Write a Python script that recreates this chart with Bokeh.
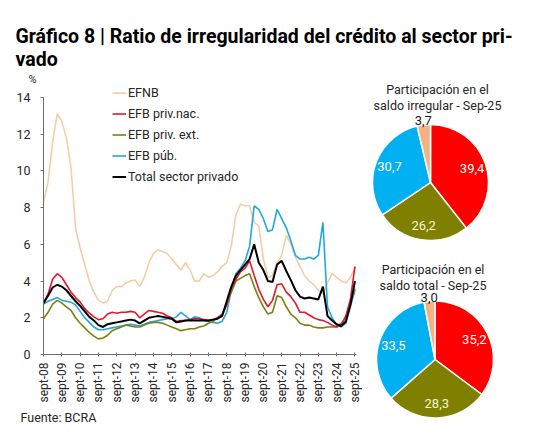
import math
import pandas as pd
from math import pi
from bokeh.plotting import figure
from bokeh.layouts import column, row
from bokeh.models import Range1d, FixedTicker, Legend, LegendItem, Title, ColumnDataSource
from bokeh.core.properties import value
from bokeh.embed import file_html
from bokeh.resources import INLINE

# ---------------- data ----------------
DATES = pd.date_range("2008-09-01", "2025-09-01", freq="3MS")  # quarterly, sept-08 .. sept-25

EFNB = [8.3, 9.4, 11.6, 13.1, 12.7, 11.8, 10.2, 6.9, 5.8, 4.9,
        4.0, 3.4, 2.95, 2.8, 2.9, 3.5, 3.7, 3.7, 3.9, 4.0,
        4.05, 3.7, 4.2, 5.0, 5.5, 5.7, 5.6, 5.5, 5.2, 4.9,
        4.6, 5.0, 4.6, 4.0, 4.0, 4.4, 4.2, 4.3, 4.5, 4.8,
        5.0, 5.9, 7.6, 8.2, 8.1, 8.1, 7.2, 7.0, 5.2, 4.2,
        4.3, 5.0, 5.4, 6.5, 6.0, 5.3, 4.8, 4.3, 4.0, 3.8,
        3.5, 3.3, 3.9, 4.4, 4.2, 4.0, 3.9, 4.2, 4.7]
EFB_PRIV_NAC = [2.8, 3.3, 4.1, 4.4, 4.2, 3.8, 3.4, 3.1, 2.85, 2.5,
                2.25, 2.05, 1.9, 1.95, 2.2, 2.3, 2.25, 2.3, 2.3, 2.35,
                2.3, 2.0, 2.2, 2.4, 2.35, 2.3, 2.25, 2.1, 2.0, 1.8,
                1.85, 1.85, 1.9, 1.95, 1.95, 1.9, 1.85, 1.9, 2.0, 2.2,
                2.7, 3.6, 4.1, 4.5, 4.7, 5.1, 4.3, 3.55, 3.0, 2.6,
                2.95, 3.8, 3.85, 3.4, 3.15, 2.8, 2.3, 2.3, 2.15, 2.0,
                1.9, 1.85, 1.75, 1.6, 1.5, 1.6, 2.1, 3.0, 4.8]
EFB_PRIV_EXT = [1.95, 2.3, 2.75, 2.95, 2.8, 2.6, 2.4, 2.0, 1.7, 1.45,
                1.2, 1.0, 0.85, 0.9, 1.05, 1.3, 1.4, 1.5, 1.6, 1.55,
                1.5, 1.5, 1.6, 1.7, 1.75, 1.75, 1.7, 1.6, 1.5, 1.4,
                1.3, 1.35, 1.4, 1.4, 1.5, 1.55, 1.7, 1.8, 2.0, 2.1,
                2.75, 3.4, 4.0, 4.15, 4.3, 4.4, 3.7, 3.1, 2.6, 2.2,
                2.3, 3.2, 3.1, 2.6, 2.2, 2.0, 1.7, 1.6, 1.6, 1.5,
                1.45, 1.45, 1.5, 1.5, 1.5, 1.7, 2.0, 2.8, 3.6]
EFB_PUB = [2.75, 2.9, 3.0, 3.1, 2.95, 2.9, 2.85, 2.7, 2.35, 2.0,
           1.75, 1.5, 1.35, 1.35, 1.4, 1.45, 1.5, 1.55, 1.6, 1.65,
           1.6, 1.55, 1.65, 1.75, 1.8, 1.85, 1.9, 1.95, 1.95, 2.05,
           2.3, 2.1, 1.9, 2.05, 2.0, 1.85, 1.8, 1.75, 1.7, 1.8,
           2.3, 3.5, 4.4, 4.7, 5.1, 5.9, 8.1, 7.9, 7.4, 6.7,
           6.8, 7.9, 7.4, 6.9, 6.2, 5.4, 5.2, 5.2, 5.3, 5.2,
           5.4, 7.2, 2.6, 2.0, 1.6, 1.5, 1.7, 2.6, 3.5]
TOTAL = [2.8, 3.2, 3.65, 3.8, 3.7, 3.5, 3.2, 2.9, 2.65, 2.35,
         2.05, 1.85, 1.6, 1.5, 1.65, 1.7, 1.75, 1.8, 1.85, 1.9,
         1.85, 1.7, 1.85, 2.0, 2.05, 2.1, 2.05, 2.0, 1.95, 1.75,
         1.8, 1.85, 1.85, 1.85, 1.85, 1.85, 1.85, 1.9, 1.95, 2.1,
         2.9, 3.7, 4.3, 4.6, 4.9, 5.2, 6.0, 5.0, 4.6, 4.0,
         3.95, 4.9, 5.1, 4.55, 4.05, 3.5, 3.15, 3.05, 3.1, 3.05,
         3.0, 3.7, 2.1, 1.85, 1.65, 1.55, 1.8, 2.7, 4.0]

X_TICK_LABELS = ["sept-08", "sept-09", "sept-10", "sept-11", "sept-12", "sept-13",
                 "sept-14", "sept-15", "sept-16", "sept-17", "sept-18", "sept-19",
                 "sept-20", "sept-21", "sept-22", "sept-23", "sept-24", "sept-25"]
Y_TICKS = [0, 2, 4, 6, 8, 10, 12, 14]

PIE_CATEGORIES = ["EFB priv.nac.", "EFB priv. ext.", "EFB púb.", "EFNB"]
SHARE_IRREGULAR = [39.4, 26.2, 30.7, 3.7]
SHARE_TOTAL = [35.2, 28.3, 33.5, 3.0]

TITLE_LINES = ["Gráfico 8 | Ratio de irregularidad del crédito al sector pri-", "vado"]
PIE1_TITLE = ["Participación en el", "saldo irregular - Sep-25"]
PIE2_TITLE = ["Participación en el", "saldo total - Sep-25"]
UNIT_LABEL = "%"
SOURCE_NOTE = "Fuente: BCRA"

# ---------------- styles ----------------
FONT = "Roboto"
TXT = "#262626"
LINE_COLORS = {"EFNB": "#F6CCA6", "EFB priv.nac.": "#E3182D", "EFB priv. ext.": "#7F7F10",
               "EFB púb.": "#22A7E0", "Total sector privado": "#000000"}
PIE_COLORS = ["#FF0000", "#7F7F00", "#00B0F0", "#F4B183"]
PIE_TEXT = ["#FFFFFF", "#F4F4D8", "#FFFFFF", "#1A1A1A"]

months = [(d.year - 2008) * 12 + (d.month - 9) for d in DATES]

def blank_fig(w, h):
    f = figure(width=w, height=h, x_range=Range1d(0, w), y_range=Range1d(0, h),
               x_axis_type=None, y_axis_type=None, min_border=0,
               outline_line_color=None, toolbar_location=None, output_backend="svg")
    f.grid.visible = False
    return f

# ---------------- title ----------------
tf = blank_fig(554, 70)
tf.text(x=[15, 15], y=[34.2, 10.8], text=TITLE_LINES, text_font=value(FONT),
        text_font_style="bold", text_font_size="19.5px", text_color="#000000",
        text_baseline="alphabetic", text_align="left")

# ---------------- line chart ----------------
PX_PER_UNIT = 257 / 14
Y_TOP = 14 + 12 / PX_PER_UNIT  # frame extends a little above 14 so the legend fits
p = figure(width=362, height=374, min_border_left=43, min_border_right=6,
           min_border_top=15, min_border_bottom=90,
           x_range=Range1d(0, 205), y_range=Range1d(0, Y_TOP),
           toolbar_location=None, output_backend="svg", outline_line_color=None)
p.grid.visible = False

p.add_layout(Title(text=UNIT_LABEL, align="left", offset=-15, standoff=0,
                   text_font=FONT, text_font_size="11px", text_font_style="normal",
                   text_color=TXT), "above")
p.add_layout(Title(text=SOURCE_NOTE, align="left", offset=-23, standoff=4,
                   text_font=FONT, text_font_size="12.5px", text_font_style="normal",
                   text_color=TXT), "below")

series = [("EFNB", EFNB, 1.6), ("EFB púb.", EFB_PUB, 1.6), ("EFB priv. ext.", EFB_PRIV_EXT, 1.6),
          ("EFB priv.nac.", EFB_PRIV_NAC, 1.6), ("Total sector privado", TOTAL, 2.0)]
rends = {}
for name, vals, lw in series:
    rends[name] = p.line(months, vals, line_color=LINE_COLORS[name], line_width=lw)

legend_order = ["EFNB", "EFB priv.nac.", "EFB priv. ext.", "EFB púb.", "Total sector privado"]
legend = Legend(items=[LegendItem(label=n, renderers=[rends[n]]) for n in legend_order],
                location=(69, 168), orientation="vertical", padding=0, margin=0, spacing=2,
                label_height=19, glyph_height=19, glyph_width=14, label_standoff=2,
                label_text_font=FONT, label_text_font_size="12.5px", label_text_color=TXT,
                border_line_color=None, background_fill_alpha=0)
p.add_layout(legend)

xticks = [12 * i for i in range(len(X_TICK_LABELS))]
p.xaxis.ticker = FixedTicker(ticks=xticks)
p.xaxis.major_label_overrides = {t: lab for t, lab in zip(xticks, X_TICK_LABELS)}
p.xaxis.major_label_orientation = pi / 2
p.xaxis.major_tick_in = 2
p.xaxis.major_tick_out = 2
p.xaxis.major_label_standoff = 6
p.yaxis.ticker = FixedTicker(ticks=Y_TICKS)
p.yaxis.bounds = (Y_TICKS[0], Y_TICKS[-1])
p.yaxis.major_tick_in = 0
p.yaxis.major_tick_out = 3
p.yaxis.major_label_standoff = 10
for ax in (p.xaxis, p.yaxis):
    ax.minor_tick_line_color = None
    ax.axis_line_color = "#6F6F6F"
    ax.major_tick_line_color = "#6F6F6F"
    ax.major_label_text_font = FONT
    ax.major_label_text_color = TXT
p.xaxis.major_label_text_font_size = "12px"
p.yaxis.major_label_text_font_size = "12.5px"

# ---------------- pies ----------------
def pie_fig(shares, title_lines, cx, cy, r, tx, ty):
    f = blank_fig(192, 187)
    total = float(sum(shares))
    starts, ends, lx, ly, labels = [], [], [], [], []
    cum = 0.0
    for s in shares:
        a0 = pi / 2 - 2 * pi * cum / total
        a1 = pi / 2 - 2 * pi * (cum + s) / total
        starts.append(a0)
        ends.append(a1)
        mid = (a0 + a1) / 2
        rl = 44 if s > 10 else 62
        lx.append(cx + rl * math.cos(mid))
        ly.append(cy + rl * math.sin(mid))
        labels.append(f"{s:.1f}".replace(".", ","))
        cum += s
    src = ColumnDataSource(dict(start=starts, end=ends, color=PIE_COLORS, cat=PIE_CATEGORIES))
    f.wedge(x=cx, y=cy, radius=r, start_angle="start", end_angle="end", direction="clock",
            fill_color="color", line_color="white", line_width=1.5, source=src)
    f.text(x=lx, y=ly, text=labels, text_color=PIE_TEXT, text_font=value(FONT),
           text_font_size="13px", text_align="center", text_baseline="middle")
    f.text(x=[tx, tx], y=[ty, ty - 16], text=title_lines, text_color=TXT, text_font=value(FONT),
           text_font_size="12.5px", text_align="center", text_baseline="middle")
    return f

pie1 = pie_fig(SHARE_IRREGULAR, PIE1_TITLE, 68, 75, 58, 75, 168)
pie2 = pie_fig(SHARE_TOTAL, PIE2_TITLE, 72.5, 85, 58.5, 70.5, 175)

layout = column(tf, row(p, column(pie1, pie2)))
open("out.html", "w").write(file_html(layout, INLINE))
